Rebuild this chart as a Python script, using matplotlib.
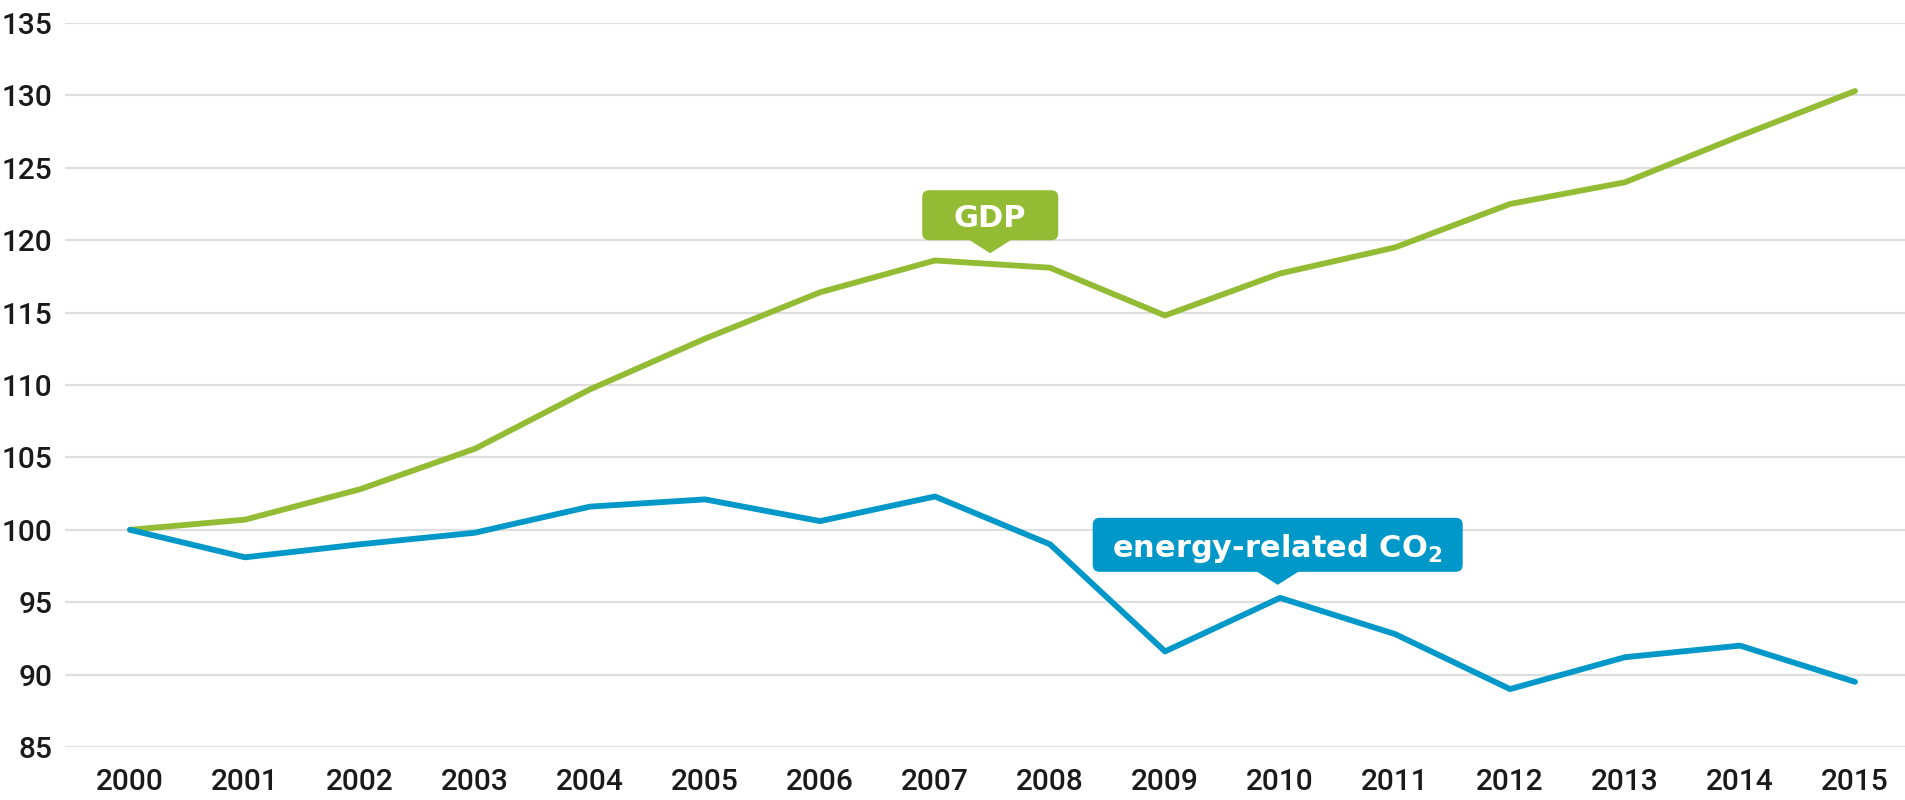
import matplotlib
matplotlib.use("Agg")
import matplotlib.pyplot as plt
from matplotlib.ticker import FixedLocator
from matplotlib.patches import FancyBboxPatch, Polygon
from matplotlib.transforms import IdentityTransform, ScaledTranslation

years = list(range(2000, 2016))
gdp = [100.0, 100.7, 102.8, 105.6, 109.7, 113.2, 116.4, 118.6, 118.1, 114.8,
       117.7, 119.5, 122.5, 124.0, 127.2, 130.3]
co2 = [100.0, 98.1, 99.0, 99.8, 101.6, 102.1, 100.6, 102.3, 99.0, 91.6,
       95.3, 92.8, 89.0, 91.2, 92.0, 89.5]
y_ticks = [85, 90, 95, 100, 105, 110, 115, 120, 125, 130, 135]

GREEN = "#93bb33"
BLUE = "#0098c9"

plt.rcParams['font.family'] = ['Roboto', 'DejaVu Sans']

fig = plt.figure(figsize=(19.05, 8), dpi=100)
ax = fig.add_axes([65 / 1905, 1 - 747 / 800, 1 - 65 / 1905, (747 - 23) / 800])

ax.plot(years, gdp, color=GREEN, lw=4.2, solid_capstyle='round', solid_joinstyle='round', zorder=3)
ax.plot(years, co2, color=BLUE, lw=4.2, solid_capstyle='round', solid_joinstyle='round', zorder=3)

ax.set_xlim(2000 - 65 / 115, 2015 + 50 / 115)
ax.set_ylim(85, 135)
ax.yaxis.set_major_locator(FixedLocator(y_ticks))
ax.set_xticks(years)
ax.set_xticklabels([str(y) for y in years])
ax.grid(axis='y', color='#dedede', lw=1.6)
ax.set_axisbelow(True)
for s in ax.spines.values():
    s.set_visible(False)
ax.tick_params(axis='both', length=0, labelsize=21.5, colors='#1a1a1a')
for lab in ax.get_xticklabels() + ax.get_yticklabels():
    lab.set_fontweight('medium')
ax.tick_params(axis='y', pad=9)
ax.tick_params(axis='x', pad=15)


def callout(x, y_tip, text, color, w, h):
    # geometry in pixels relative to the pointer tip at data point (x, y_tip)
    tr = IdentityTransform() + ScaledTranslation(x, y_tip, ax.transData)
    tri_h, tri_w = 14, 44
    box = FancyBboxPatch((-w / 2, tri_h - 1), w, h,
                         boxstyle="round,pad=0,rounding_size=7",
                         fc=color, ec='none', transform=tr, zorder=5, clip_on=False)
    ax.add_patch(box)
    tri = Polygon([(-tri_w / 2, tri_h), (tri_w / 2, tri_h), (0, 0)], closed=True,
                  fc=color, ec='none', transform=tr, zorder=5, clip_on=False)
    ax.add_patch(tri)
    ax.text(0, tri_h - 1 + h / 2, text, transform=tr, ha='center', va='center_baseline',
            color='white', fontsize=22, fontweight='bold', family='DejaVu Sans', zorder=6)


callout(2007.48, 119.1, "GDP", GREEN, 136, 50)
callout(2009.98, 96.2, "energy-related CO$_\\mathbf{2}$", BLUE, 370, 54)

fig.savefig("out.png", dpi=100, facecolor='white')
